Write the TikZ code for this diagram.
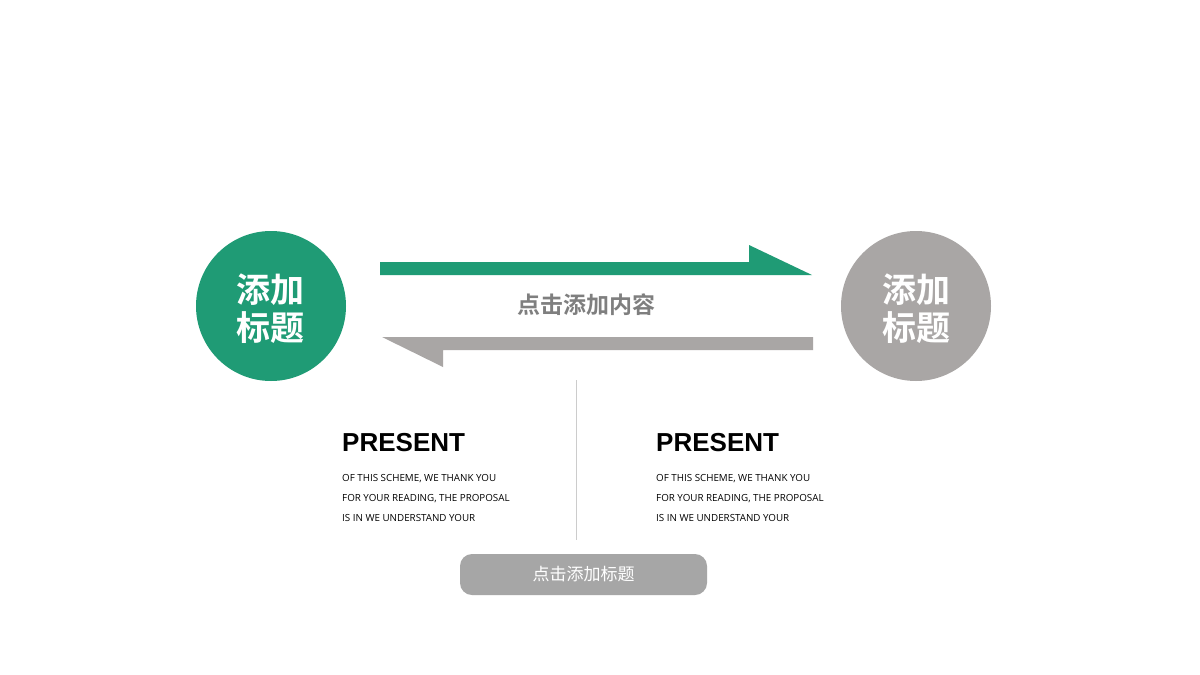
\documentclass[tikz,border=0pt]{standalone}
\usepackage{fontspec}
\setmainfont{Open Sans}
\newfontfamily\cjk{Noto Sans CJK SC}
\newfontfamily\cjkb{Noto Sans CJK SC Bold}
\newfontfamily\headfont{Liberation Sans}
\definecolor{mygreen}{HTML}{1F9B75}
\definecolor{mygray}{HTML}{A9A6A5}
\definecolor{txtgray}{HTML}{7F7F7F}
\definecolor{btngray}{HTML}{A6A6A6}
\begin{document}
\begin{tikzpicture}[x=1pt,y=-1pt,
  circtext/.style={text=white,font=\cjkb\fontsize{34}{40}\selectfont,align=center},
  headtext/.style={anchor=base west,inner sep=0pt,font=\headfont\bfseries\fontsize{26}{30}\selectfont},
  bodytext/.style={anchor=base west,inner sep=0pt,font=\fontsize{9.8}{20}\selectfont}]
\useasboundingbox (0,0) rectangle (1200,675);
\fill[white] (0,0) rectangle (1200,675);
% circles
\fill[mygreen] (271,306) circle (75);
\node[circtext] (lc) at (270,309) {添加\\[-2pt]标题};
\fill[mygray] (916,306) circle (75);
\node[circtext] (rc) at (916,309) {添加\\[-2pt]标题};
% arrows
\fill[mygreen] (380,262) -- (749,262) -- (749,245) -- (812,275) -- (380,275) -- cycle;
\fill[mygray] (382,337) -- (813,337) -- (813,350) -- (443,350) -- (443,367) -- cycle;
\node[text=txtgray,font=\cjkb\fontsize{23}{26}\selectfont] (mid) at (586,305) {点击添加内容};
% divider
\coordinate (d1) at (576,380);
\coordinate (d2) at (576,540);
\draw[line width=1pt,draw=black!20] (d1) -- (d2);
% left text
\node[headtext] (p1) at (342,451) {PRESENT};
\node[bodytext] (l1) at (342,481) {OF THIS SCHEME, WE THANK YOU};
\node[bodytext] (l2) at (342,501) {FOR YOUR READING, THE PROPOSAL};
\node[bodytext] (l3) at (342,521) {IS IN WE UNDERSTAND YOUR};
% right text
\node[headtext] (p2) at (656,451) {PRESENT};
\node[bodytext] (r1) at (656,481) {OF THIS SCHEME, WE THANK YOU};
\node[bodytext] (r2) at (656,501) {FOR YOUR READING, THE PROPOSAL};
\node[bodytext] (r3) at (656,521) {IS IN WE UNDERSTAND YOUR};
% button
\fill[btngray,rounded corners=12pt] (460,554) rectangle (707,595);
\node[text=white,font=\cjk\fontsize{17}{20}\selectfont] (btn) at (583.5,574.5) {点击添加标题};
\end{tikzpicture}
\end{document}
